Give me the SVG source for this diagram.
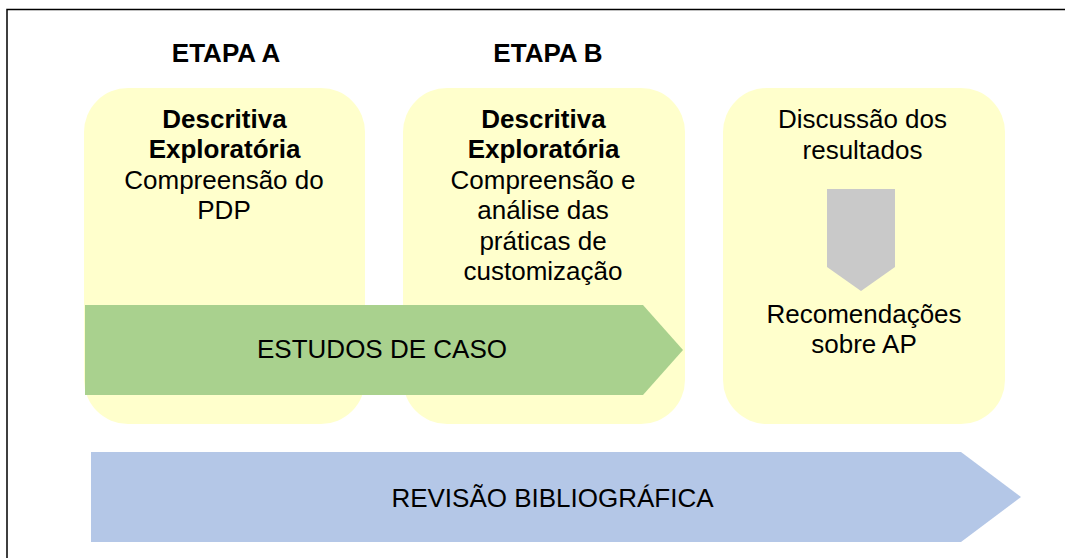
<svg xmlns="http://www.w3.org/2000/svg" width="1065" height="558" viewBox="0 0 1065 558">
<style>
text{font-family:"Liberation Sans",Arial,sans-serif;fill:#000;text-anchor:middle;font-size:26px}
.b{font-weight:bold}
.box{fill:#FFFFCC}
</style>
<rect x="0" y="0" width="1065" height="558" fill="#fff"/>
<path d="M7,558 V9.5 H1065" fill="none" stroke="#000" stroke-width="1.5"/>
<text class="b" x="226" y="62">ETAPA A</text>
<text class="b" x="548" y="62">ETAPA B</text>
<g id="boxA">
<rect class="box" x="84" y="88" width="281" height="336" rx="44"/>
<text class="b" x="224.5" y="128">Descritiva</text>
<text class="b" x="224.5" y="157.5">Exploratória</text>
<text x="224" y="188.5">Compreensão do</text>
<text x="224" y="218.5">PDP</text>
</g>
<g id="boxB">
<rect class="box" x="403" y="88" width="282" height="336" rx="44"/>
<text class="b" x="543.5" y="128">Descritiva</text>
<text class="b" x="543.5" y="157.5">Exploratória</text>
<text x="543" y="188.5">Compreensão e</text>
<text x="543" y="219">análise das</text>
<text x="543" y="249.5">práticas de</text>
<text x="543" y="280">customização</text>
</g>
<g id="boxC">
<rect class="box" x="723" y="88" width="282" height="336" rx="44"/>
<text x="862.5" y="128">Discussão dos</text>
<text x="862.5" y="159">resultados</text>
<text x="864" y="323">Recomendações</text>
<text x="864" y="353">sobre AP</text>
</g>
<g id="connectors">
<polygon points="827,189 895,189 895,267 861,291 827,267" fill="#C9C9C9"/>
</g>
<g id="estudos">
<polygon points="85,305 643,305 683,350 643,395 85,395" fill="#A9D18E"/>
<text x="382" y="358">ESTUDOS DE CASO</text>
</g>
<g id="revisao">
<polygon points="91,452 961,452 1021,497 961,542 91,542" fill="#B4C7E7"/>
<text x="552.5" y="507">REVISÃO BIBLIOGRÁFICA</text>
</g>
</svg>
